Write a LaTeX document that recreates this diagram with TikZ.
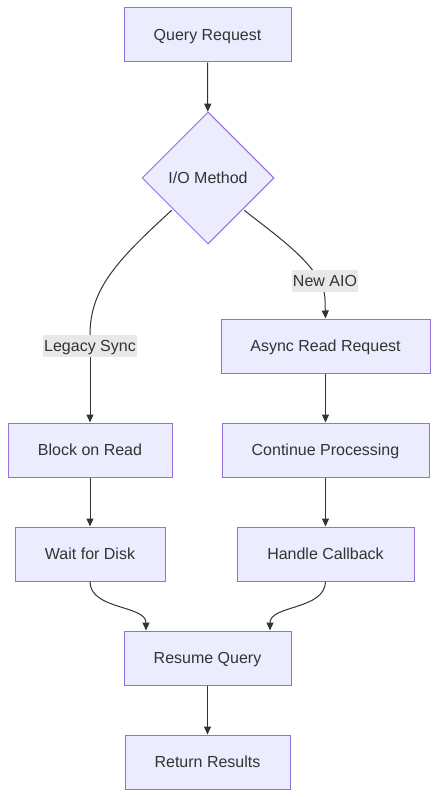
\documentclass[tikz,border=0pt]{standalone}
\usepackage{fontspec}
\setmainfont{Liberation Sans}
\usetikzlibrary{shapes.geometric,arrows.meta}
\definecolor{nodefill}{HTML}{ECECFF}
\definecolor{nodeline}{HTML}{9370DB}
\definecolor{txt}{HTML}{333333}
\definecolor{lblbg}{HTML}{E8E8E8}
\begin{document}
\begin{tikzpicture}[x=1pt,y=-1pt,
  box/.style={draw=nodeline,fill=nodefill,line width=1pt,text=txt,minimum height=54pt,inner sep=0pt,text height=14.5pt,text depth=4pt,font=\fontsize{16}{19}\selectfont},
  dia/.style={draw=nodeline,fill=nodefill,line width=1pt,text=txt,diamond,aspect=1,minimum width=132pt,minimum height=132pt,inner sep=0pt,text height=14.5pt,text depth=4pt,font=\fontsize{16}{19}\selectfont},
  lbl/.style={fill=lblbg,text=txt,inner xsep=1pt,inner ysep=2pt,text height=14.5pt,text depth=4pt,font=\fontsize{16}{19}\selectfont},
  edge/.style={draw=txt,line width=1pt,-{Triangle[length=8pt,width=7pt]}},
  plain/.style={draw=txt,line width=1pt}]
\useasboundingbox (0,0) rectangle (439,797);
\node[box,minimum width=167pt] (q) at (207.5,35) {Query Request};
\node[dia] (io) at (208,178) {I/O Method};
\node[box,minimum width=209pt] (ar) at (325.5,346) {Async Read Request};
\node[box,minimum width=164pt] (br) at (90,450) {Block on Read};
\node[box,minimum width=207pt] (cp) at (325.5,450) {Continue Processing};
\node[box,minimum width=150pt] (wd) at (90,554) {Wait for Disk};
\node[box,minimum width=177pt] (hc) at (325.5,554) {Handle Callback};
\node[box,minimum width=167pt] (rq) at (207.5,658) {Resume Query};
\node[box,minimum width=165pt] (rr) at (207.5,762) {Return Results};
\coordinate (lc) at (90,335);
\coordinate (rc) at (325,300);
\draw[edge] (q) -- (io);
\draw[plain] ([shift={(-3,-1)}]io.south west) .. controls (115,262) and (90,290) .. (lc);
\draw[edge] (lc) -- (br.north);
\draw[plain] ([shift={(3,-1)}]io.south east) .. controls (275,235) and (325,268) .. (rc);
\draw[edge] (rc) -- (ar.north);
\node[lbl] (ls) at (90,346) {Legacy Sync};
\node[lbl] (na) at (325,281) {New AIO};
\draw[edge] (ar) -- (cp);
\draw[edge] (br) -- (wd);
\draw[edge] (cp) -- (hc);
\draw[edge] (wd.south) .. controls (90,610) and (146,605) .. (rq.north -| 146,0);
\draw[edge] (hc.south) .. controls (325,610) and (270,605) .. (rq.north -| 270,0);
\draw[edge] (rq) -- (rr);
\end{tikzpicture}
\end{document}
